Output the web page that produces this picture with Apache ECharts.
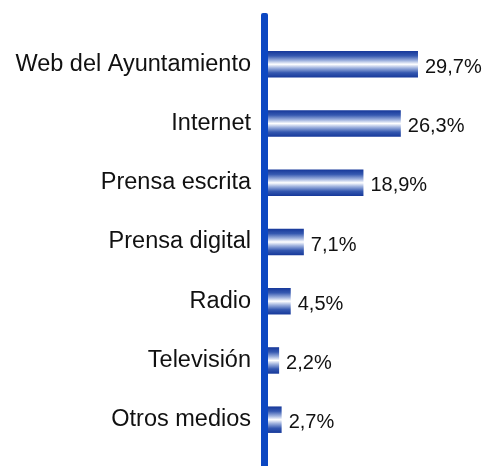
<!DOCTYPE html>
<html>
<head>
<meta charset="utf-8">
<script src="https://cdn.jsdelivr.net/npm/echarts@6/dist/echarts.min.js"></script>
<style>
  html, body { margin: 0; padding: 0; background: #ffffff; }
  #chart { width: 488px; height: 466px; }
</style>
</head>
<body>
<div id="chart"></div>
<script>
// Information channels and the share of respondents using each one (%)
const categories = [
  'Web del Ayuntamiento',
  'Internet',
  'Prensa escrita',
  'Prensa digital',
  'Radio',
  'Televisión',
  'Otros medios'
];
const shares = [29.7, 26.3, 18.9, 7.1, 4.5, 2.2, 2.7];

const chart = echarts.init(document.getElementById('chart'));

// Glossy bar fill: dark blue edges fading to white along the middle
const barFill = new echarts.graphic.LinearGradient(0, 0, 0, 1, [
  { offset: 0, color: '#16389a' },
  { offset: 0.18, color: '#3558b0' },
  { offset: 0.36, color: '#9fb2de' },
  { offset: 0.5, color: '#ffffff' },
  { offset: 0.64, color: '#9fb2de' },
  { offset: 0.82, color: '#3558b0' },
  { offset: 1, color: '#16389a' }
]);

const GRID_LEFT = 268;

chart.setOption({
  animation: false,
  grid: { left: GRID_LEFT, top: 34.7, width: 151.5, height: 414.6, containLabel: false },
  xAxis: {
    type: 'value',
    min: 0,
    max: 30,
    show: false
  },
  yAxis: {
    type: 'category',
    data: categories,
    inverse: true,
    axisLine: { show: false },
    axisTick: { show: false },
    splitLine: { show: false },
    axisLabel: {
      margin: 17,
      color: '#111111',
      fontFamily: 'Liberation Sans, Arial, sans-serif',
      fontSize: 23.5
    }
  },
  series: [{
    type: 'bar',
    data: shares,
    barWidth: 26.5,
    itemStyle: { color: barFill },
    label: {
      show: true,
      position: 'right',
      distance: 7,
      offset: [0, 3],
      color: '#111111',
      fontFamily: 'Liberation Sans, Arial, sans-serif',
      fontSize: 20,
      formatter: p => p.value.toFixed(1).replace('.', ',') + '%'
    }
  }]
});

// Tall vertical baseline running just left of the zero point
const zeroX = chart.convertToPixel({ xAxisIndex: 0 }, 0);
chart.setOption({
  graphic: [{
    type: 'rect',
    shape: { x: zeroX - 7, y: 13, width: 7, height: 460, r: [2, 2, 0, 0] },
    style: { fill: '#0c47c2' },
    z: 10
  }]
});
</script>
</body>
</html>
